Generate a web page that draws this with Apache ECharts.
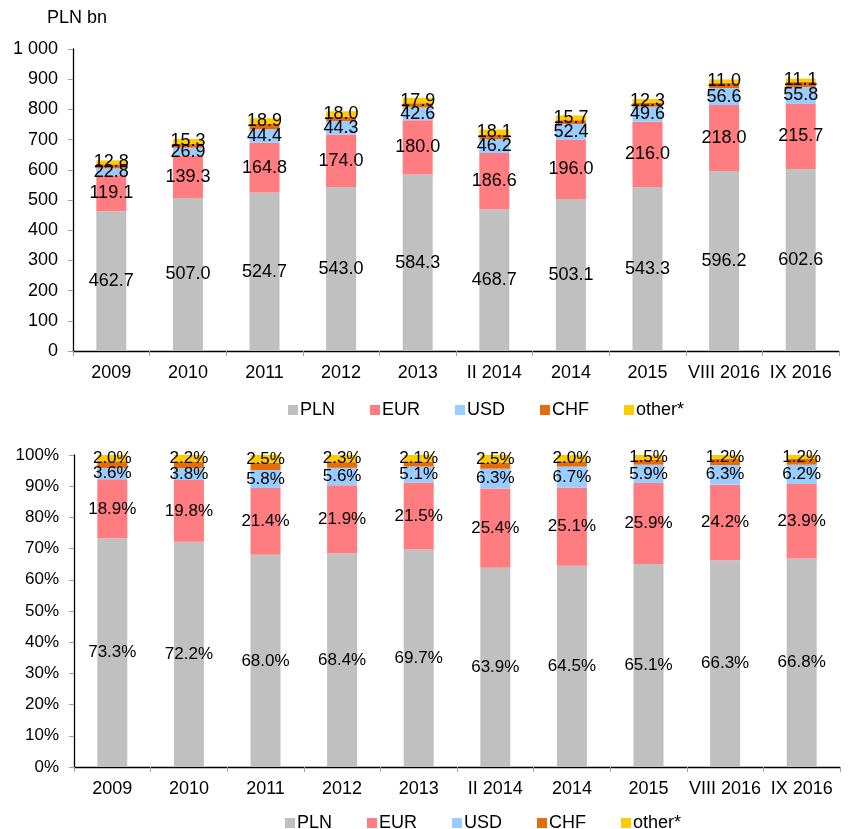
<!DOCTYPE html>
<html>
<head>
<meta charset="utf-8">
<script src="https://cdn.jsdelivr.net/npm/echarts@6/dist/echarts.min.js"></script>
<style>
  html, body { margin: 0; padding: 0; background: #fff; }
  #chart { width: 852px; height: 829px; }
</style>
</head>
<body>
<div id="chart"></div>
<script>
// Bank deposits by currency: amounts (PLN bn) and currency structure (%)
const categories = ['2009', '2010', '2011', '2012', '2013', 'II 2014', '2014', '2015', 'VIII 2016', 'IX 2016'];

// Amounts, PLN bn
const plnBn   = [462.7, 507.0, 524.7, 543.0, 584.3, 468.7, 503.1, 543.3, 596.2, 602.6];
const eurBn   = [119.1, 139.3, 164.8, 174.0, 180.0, 186.6, 196.0, 216.0, 218.0, 215.7];
const usdBn   = [22.8, 26.9, 44.4, 44.3, 42.6, 46.2, 52.4, 49.6, 56.6, 55.8];
const chfBn   = [13.8, 13.7, 18.0, 14.6, 13.5, 13.9, 12.8, 13.4, 17.4, 16.9];
const otherBn = [12.8, 15.3, 18.9, 18.0, 17.9, 18.1, 15.7, 12.3, 11.0, 11.1];

// Shares, %
const plnPct   = [73.3, 72.2, 68.0, 68.4, 69.7, 63.9, 64.5, 65.1, 66.3, 66.8];
const eurPct   = [18.9, 19.8, 21.4, 21.9, 21.5, 25.4, 25.1, 25.9, 24.2, 23.9];
const usdPct   = [3.6, 3.8, 5.8, 5.6, 5.1, 6.3, 6.7, 5.9, 6.3, 6.2];
const chfPct   = [2.2, 2.0, 2.3, 1.8, 1.6, 1.9, 1.7, 1.6, 2.0, 1.9];
const otherPct = [2.0, 2.2, 2.5, 2.3, 2.1, 2.5, 2.0, 1.5, 1.2, 1.2];

const seriesNames = ['PLN', 'EUR', 'USD', 'CHF', 'other*'];
const colors = ['#C0C0C0', '#FF7C80', '#99CCFF', '#E46C0A', '#FFCC00'];

const FONT = 'Liberation Sans, Arial, sans-serif';

const chart = echarts.init(document.getElementById('chart'), null, { renderer: 'canvas' });

function barSeries(name, data, gridIdx, stack, showLabel, fontSize, suffix) {
  return {
    name: name,
    type: 'bar',
    stack: stack,
    xAxisIndex: gridIdx,
    yAxisIndex: gridIdx,
    barWidth: 30,
    data: data,
    itemStyle: { color: colors[seriesNames.indexOf(name)] },
    label: {
      show: showLabel,
      position: 'inside',
      color: '#000',
      fontFamily: FONT,
      fontSize: fontSize,
      formatter: p => p.value.toFixed(1) + suffix
    },
    emphasis: { disabled: true },
    animation: false
  };
}

const axisLineStyle = { show: true, lineStyle: { color: '#000', width: 1.3 } };
const axisTickStyle = { show: true, length: 5, lineStyle: { color: '#A0A0A0' } };

function legendCfg(left, top) {
  return {
    data: seriesNames,
    left: left,
    top: top,
    orient: 'horizontal',
    itemWidth: 10,
    itemHeight: 10,
    itemGap: 35,
    icon: 'rect',
    textStyle: { fontFamily: FONT, fontSize: 18, color: '#000', padding: [0, 0, 0, -3] },
    selectedMode: false
  };
}

const option = {
  backgroundColor: '#fff',
  animation: false,
  textStyle: { fontFamily: FONT },
  grid: [
    { left: 73, top: 49, width: 766, height: 302 },
    { left: 74, top: 455, width: 766, height: 312 }
  ],
  legend: [legendCfg(283, 396), legendCfg(280, 809)],
  graphic: [
    {
      type: 'text',
      left: 47,
      top: 9,
      style: { text: 'PLN bn', font: '18px ' + FONT, fill: '#000' }
    }
  ],
  xAxis: [0, 1].map(i => ({
    type: 'category',
    gridIndex: i,
    data: categories,
    axisLine: axisLineStyle,
    axisTick: axisTickStyle,
    axisLabel: { interval: 0, margin: 13, color: '#000', fontFamily: FONT, fontSize: 18 }
  })),
  yAxis: [
    {
      type: 'value',
      gridIndex: 0,
      min: 0,
      max: 1000,
      interval: 100,
      splitLine: { show: false },
      axisLine: axisLineStyle,
      axisTick: axisTickStyle,
      axisLabel: {
        margin: 15,
        color: '#000',
        fontFamily: FONT,
        fontSize: 18,
        formatter: v => v >= 1000 ? '1 000' : String(v)
      }
    },
    {
      type: 'value',
      gridIndex: 1,
      min: 0,
      max: 100,
      interval: 10,
      splitLine: { show: false },
      axisLine: axisLineStyle,
      axisTick: axisTickStyle,
      axisLabel: {
        margin: 15,
        color: '#000',
        fontFamily: FONT,
        fontSize: 17,
        formatter: v => v + '%'
      }
    }
  ],
  series: [
    barSeries('PLN', plnBn, 0, 'bn', true, 18, ''),
    barSeries('EUR', eurBn, 0, 'bn', true, 18, ''),
    barSeries('USD', usdBn, 0, 'bn', true, 18, ''),
    barSeries('CHF', chfBn, 0, 'bn', false, 18, ''),
    barSeries('other*', otherBn, 0, 'bn', true, 18, ''),
    barSeries('PLN', plnPct, 1, 'pct', true, 17, '%'),
    barSeries('EUR', eurPct, 1, 'pct', true, 17, '%'),
    barSeries('USD', usdPct, 1, 'pct', true, 17, '%'),
    barSeries('CHF', chfPct, 1, 'pct', false, 17, '%'),
    barSeries('other*', otherPct, 1, 'pct', true, 17, '%')
  ]
};

chart.setOption(option);
</script>
</body>
</html>
